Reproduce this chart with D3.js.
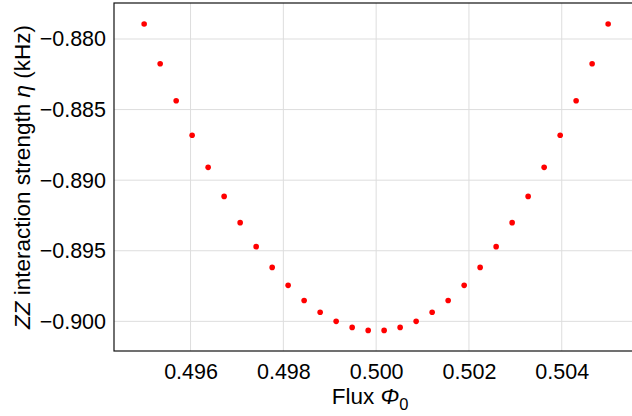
<!DOCTYPE html>
<html>
<head>
<meta charset="utf-8">
<script src="https://cdn.jsdelivr.net/npm/d3@7"></script>
<style>
  html, body { margin: 0; padding: 0; background: #fff; overflow: hidden; }
  svg { display: block; font-family: "Liberation Sans", Arial, Helvetica, sans-serif; }
</style>
</head>
<body>
<svg id="chart" width="632" height="416"></svg>
<script>
// Flux bias points (in units of Φ0), 30 samples across the sweet spot
const fluxValues = [
  0.495000, 0.495345, 0.495690, 0.496034, 0.496379, 0.496724,
  0.497069, 0.497414, 0.497759, 0.498103, 0.498448, 0.498793,
  0.499138, 0.499483, 0.499828, 0.500172, 0.500517, 0.500862,
  0.501207, 0.501552, 0.501897, 0.502241, 0.502586, 0.502931,
  0.503276, 0.503621, 0.503966, 0.504310, 0.504655, 0.505000
];

// ZZ interaction strength η (kHz) at each flux point
const etaValues = [
  -0.87894, -0.88175, -0.88437, -0.88682, -0.88909, -0.89115,
  -0.89301, -0.89471, -0.89618, -0.89745, -0.89852, -0.89936,
  -0.90000, -0.90043, -0.90064, -0.90064, -0.90043, -0.90000,
  -0.89936, -0.89852, -0.89745, -0.89618, -0.89471, -0.89301,
  -0.89115, -0.88909, -0.88682, -0.88437, -0.88175, -0.87894
];

const xTicks = [0.496, 0.498, 0.500, 0.502, 0.504];
const yTicks = [-0.880, -0.885, -0.890, -0.895, -0.900];

const svg = d3.select("#chart");
const plot = { left: 114, top: 3, right: 638.3, bottom: 351 };

const x = d3.scaleLinear().domain([0.49435, 0.50565]).range([plot.left, plot.right]);
const y = d3.scaleLinear().domain([-0.90210, -0.87745]).range([plot.bottom, plot.top]);

const fmt = d3.format(".3f");

// grid lines
const grid = svg.append("g").attr("class", "grid");
grid.selectAll("line.vx").data(xTicks).join("line")
  .attr("x1", d => x(d)).attr("x2", d => x(d))
  .attr("y1", plot.top).attr("y2", plot.bottom)
  .attr("stroke", "#dddddd").attr("stroke-width", 1);
grid.selectAll("line.hy").data(yTicks).join("line")
  .attr("x1", plot.left).attr("x2", plot.right)
  .attr("y1", d => y(d)).attr("y2", d => y(d))
  .attr("stroke", "#dddddd").attr("stroke-width", 1);

// axes
const xAxis = svg.append("g")
  .attr("transform", `translate(0,${plot.bottom})`)
  .call(d3.axisBottom(x).tickValues(xTicks).tickFormat(fmt).tickSize(0).tickPadding(13));
const yAxis = svg.append("g")
  .attr("transform", `translate(${plot.left},0)`)
  .call(d3.axisLeft(y).tickValues(yTicks).tickFormat(fmt).tickSize(0).tickPadding(8));

[xAxis, yAxis].forEach(g => {
  g.select(".domain").remove();
  g.selectAll("text")
    .attr("font-family", "'Liberation Sans', Arial, Helvetica, sans-serif")
    .attr("font-size", 21.5)
    .attr("fill", "#000");
});

// frame
svg.append("rect")
  .attr("x", plot.left).attr("y", plot.top)
  .attr("width", plot.right - plot.left).attr("height", plot.bottom - plot.top)
  .attr("fill", "none").attr("stroke", "#111").attr("stroke-width", 1.2);

// data points
svg.append("g").selectAll("circle")
  .data(fluxValues.map((f, i) => [f, etaValues[i]]))
  .join("circle")
  .attr("cx", d => x(d[0]))
  .attr("cy", d => y(d[1]))
  .attr("r", 2.8)
  .attr("fill", "#ff0000");

// axis titles
const xt = svg.append("text")
  .attr("x", (plot.left + plot.right) / 2 - 6)
  .attr("y", 404)
  .attr("text-anchor", "middle")
  .attr("font-size", 22.5)
  .attr("fill", "#000");
xt.append("tspan").text("Flux ");
xt.append("tspan").attr("font-style", "italic").text("Φ");
xt.append("tspan").attr("font-size", 16.5).attr("dy", 6).text("0");

const yt = svg.append("text")
  .attr("transform", `translate(30,${(plot.top + plot.bottom) / 2}) rotate(-90)`)
  .attr("text-anchor", "middle")
  .attr("font-size", 22.5)
  .attr("fill", "#000");
yt.append("tspan").attr("font-style", "italic").text("ZZ");
yt.append("tspan").text(" interaction strength ");
yt.append("tspan").attr("font-style", "italic").text("η");
yt.append("tspan").text(" (kHz)");
</script>
</body>
</html>
